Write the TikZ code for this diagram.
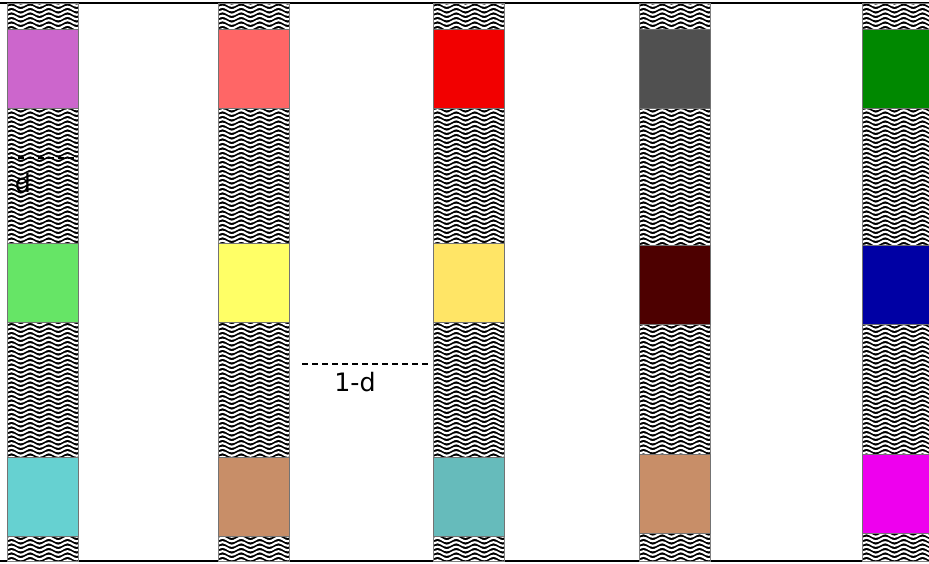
\documentclass[tikz,border=0pt]{standalone}
\usepackage{fontspec}
\setsansfont{DejaVu Sans}
\usepackage{xcolor}
\usepackage{tikz}
\usetikzlibrary{decorations.pathmorphing, positioning}
\definecolor{Orchid}{RGB}{204, 102, 204}
\definecolor{Salmon}{RGB}{255, 102, 102}
\definecolor{Scarlet}{RGB}{242, 0, 0}
\definecolor{Slate}{RGB}{80, 80, 80}
\definecolor{Forest}{RGB}{0, 136, 0}
\definecolor{Mint}{RGB}{102, 229, 102}
\definecolor{Lemon}{RGB}{255, 255, 102}
\definecolor{Butter}{RGB}{255, 229, 102}
\definecolor{Maroon}{RGB}{77, 0, 0}
\definecolor{Navy}{RGB}{0, 0, 164}
\definecolor{Aqua}{RGB}{102, 209, 209}
\definecolor{Tan}{RGB}{200, 142, 104}
\definecolor{Teal}{RGB}{102, 187, 187}
\definecolor{Fuchsia}{RGB}{238, 0, 238}

\begin{document}
\begin{tikzpicture}[
    x=0.75pt, y=-0.75pt,
    wave/.style={draw=white, line width=1.6pt, decorate,
      decoration={snake, segment length=14pt, amplitude=1.3pt}},
    strip/.style={draw=gray, line width=0.6pt},
    cell/.style={draw=black!55, line width=0.4pt, inner sep=0pt,
      minimum width=53.25pt, minimum height=59.25pt, anchor=north west},
    gap/.style={line width=1.6pt, dash pattern=on 4.5pt off 3pt},
    lbl/.style={font=\sffamily\fontsize{19}{19}\selectfont, inner sep=1pt}
  ]
  \useasboundingbox (0,0) rectangle (929,564);

  % frame lines
  \draw[line width=0.9pt] (0,3) -- (929,3);
  \draw[line width=0.9pt] (0,561) -- (929,561);

  % wavy strips
  \foreach \x in {7,218,433,639,862} {
    \begin{scope}
      \clip (\x,3) rectangle ++(71,558);
      \fill[black] (\x,3) rectangle ++(71,558);
      \foreach \y in {4,8.5,...,562}
        \draw[wave] (\x-20,\y) -- ++(130,0);
    \end{scope}
    \draw[strip] (\x,3) rectangle ++(71,558);
  }

  % coloured cells
  \node[cell, fill=Orchid]  (c1a) at (7,29) {};
  \node[cell, fill=Mint]    (c1b) at (7,243) {};
  \node[cell, fill=Aqua]    (c1c) at (7,457) {};

  \node[cell, fill=Salmon]  (c2a) at (218,29) {};
  \node[cell, fill=Lemon]   (c2b) at (218,243) {};
  \node[cell, fill=Tan]     (c2c) at (218,457) {};

  \node[cell, fill=Scarlet] (c3a) at (433,29) {};
  \node[cell, fill=Butter]  (c3b) at (433,243) {};
  \node[cell, fill=Teal]    (c3c) at (433,457) {};

  \node[cell, fill=Slate]   (c4a) at (639,29) {};
  \node[cell, fill=Maroon]  (c4b) at (639,245) {};
  \node[cell, fill=Tan]     (c4c) at (639,454) {};

  \node[cell, fill=Forest]  (c5a) at (862,29) {};
  \node[cell, fill=Navy]    (c5b) at (862,245) {};
  \node[cell, fill=Fuchsia] (c5c) at (862,454) {};

  % widths
  \coordinate (dL) at (8,158);
  \coordinate (dR) at (77,158);
  \draw[gap] (dL) -- (dR);
  \node[lbl] (dlab) at (23,183) {d};

  \coordinate (uL) at (302,364);
  \coordinate (uR) at (428,364);
  \draw[gap] (uL) -- (uR);
  \node[lbl] (ulab) at (355,382) {1-d};
\end{tikzpicture}
\end{document}
